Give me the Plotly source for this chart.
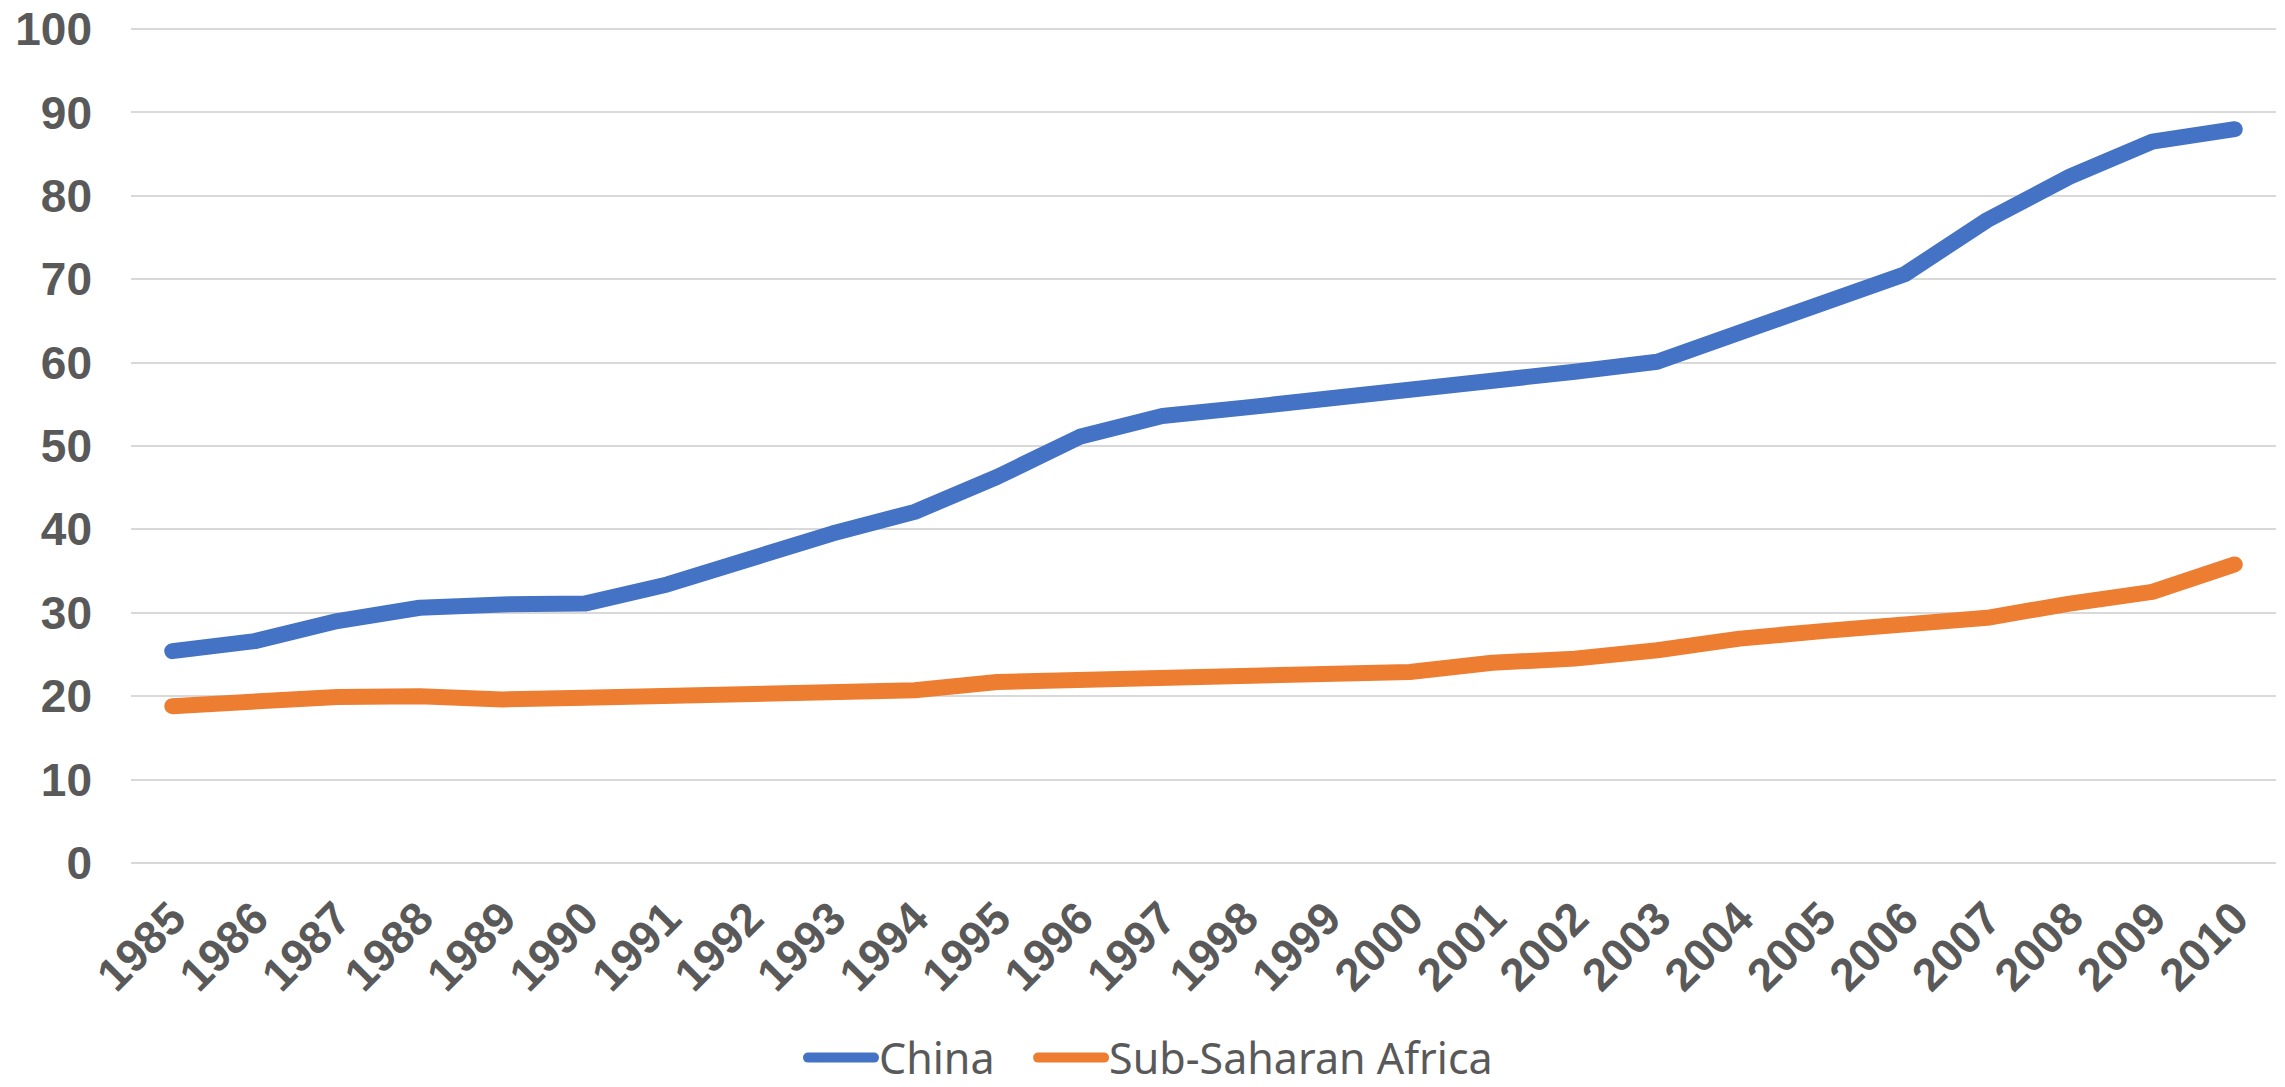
import plotly.graph_objects as go

years = [str(y) for y in range(1985, 2011)]
china = [25.4, 26.6, 29.0, 30.6, 31.0, 31.1, 33.4, 36.7, 39.5, 42.1, 46.3, 51.1,
         53.6, 54.6, 55.6, 56.6, 57.7, 58.9, 60.1, 63.5, 66.9, 70.6, 77.1, 82.3,
         86.5, 88.0]
ssa = [18.8, 19.5, 19.9, 20.0, 19.6, 19.8, 20.1, 20.3, 20.5, 20.7, 21.7, 21.9,
       22.0, 22.6, 22.8, 22.9, 24.0, 24.5, 25.5, 26.9, 27.8, 28.7, 29.4, 31.1,
       32.5, 35.8]
yticks = [0, 10, 20, 30, 40, 50, 60, 70, 80, 90, 100]

BLUE = "#4472C4"
ORANGE = "#ED7D31"
TXT = "#595959"
LW = 16
NB = "\u00a0"

fig = go.Figure()
for name, vals, col in [("China" + NB * 3, china, BLUE), ("Sub-Saharan Africa", ssa, ORANGE)]:
    fig.add_trace(go.Scatter(
        x=years, y=vals, name=name, mode="lines",
        line=dict(color=col, width=LW),
    ))

fig.update_layout(
    width=2285, height=1087,
    margin=dict(l=131, r=9, t=27, b=222, autoexpand=False),
    paper_bgcolor="white", plot_bgcolor="white",
    showlegend=True,
    legend=dict(
        orientation="h", xref="container", yref="container",
        x=0.5035, xanchor="center", y=0.027, yanchor="middle",
        font=dict(family="Noto Sans", size=43, color=TXT),
        itemwidth=66, traceorder="normal",
    ),
    hovermode=False,
)
fig.update_xaxes(
    type="category", range=[-0.5, len(years) - 0.5],
    showgrid=False, zeroline=False, showline=False,
    tickangle=-45, ticks="", automargin=False,
    tickfont=dict(family="Liberation Sans", size=46, color=TXT, weight="bold"),
    ticklabelstandoff=16,
)
fig.update_yaxes(
    range=[-0.25, 100.25], tickvals=yticks, showgrid=True, gridcolor="#D9D9D9",
    gridwidth=2, zeroline=False, showline=False, ticks="", automargin=False,
    tickfont=dict(family="Liberation Sans", size=46, color=TXT, weight="bold"),
    ticklabelstandoff=38,
)

post = """
document.body.style.margin = '0';
document.body.style.overflow = 'hidden';
var gd = document.getElementById('{plot_id}');
function rc(){
  gd.querySelectorAll('path.js-line').forEach(function(p){
    p.style.strokeLinecap = 'round';
    p.style.strokeLinejoin = 'round';
  });
}
rc();
if (gd.on) { gd.on('plotly_afterplot', rc); }
"""

fig.write_html("out.html", post_script=post, config={"displayModeBar": False})
